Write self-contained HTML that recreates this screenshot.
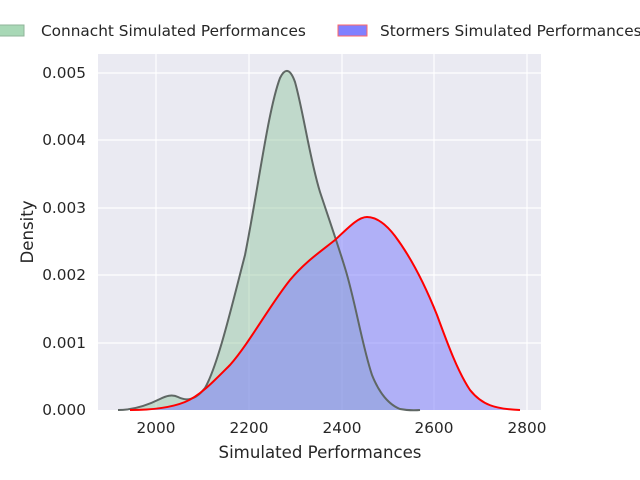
<!DOCTYPE html>
<html><head><style>body{margin:0;background:#fff}svg{display:block}text{font-family:"DejaVu Sans","Liberation Sans",sans-serif;fill:#262626}</style></head>
<body>
<svg width="640" height="480" viewBox="0 0 640 480">
<rect x="98" y="54" width="443" height="356" fill="#eaeaf2"/>
<g stroke="#fff" stroke-width="1.2">
<line x1="156" y1="54" x2="156" y2="410"/><line x1="249" y1="54" x2="249" y2="410"/><line x1="342" y1="54" x2="342" y2="410"/><line x1="434" y1="54" x2="434" y2="410"/><line x1="527" y1="54" x2="527" y2="410"/>
<line x1="98" y1="343" x2="541" y2="343"/><line x1="98" y1="275" x2="541" y2="275"/><line x1="98" y1="208" x2="541" y2="208"/><line x1="98" y1="140" x2="541" y2="140"/><line x1="98" y1="73" x2="541" y2="73"/>
</g>
<path d="M118,410 C135,410 150,404 160,399 C166,396 172,394 178,397 C186,401 195,401 205,388 C218,365 232,305 245,255 C258,190 268,110 280,78 C285,68 290,68 295,82 C303,110 310,160 320,192 C330,222 338,245 345,268 C355,300 362,345 372,375 C380,395 390,405 400,409 C410,411 420,410 420,410 Z" fill="#8fc69b" fill-opacity="0.45"/>
<path d="M130,410 C150,410 170,408 185,402 C200,396 215,380 230,365 C250,342 270,305 290,280 C305,262 320,252 335,240 C348,228 358,217 367,217 C376,217 385,223 395,236 C410,256 425,285 437,315 C448,345 458,372 470,390 C482,405 495,409 520,410 Z" fill="#7f7ffb" fill-opacity="0.55"/>
<path d="M118,410 C135,410 150,404 160,399 C166,396 172,394 178,397 C186,401 195,401 205,388 C218,365 232,305 245,255 C258,190 268,110 280,78 C285,68 290,68 295,82 C303,110 310,160 320,192 C330,222 338,245 345,268 C355,300 362,345 372,375 C380,395 390,405 400,409 C410,411 420,410 420,410" fill="none" stroke="#5f6764" stroke-width="2"/>
<path d="M130,410 C150,410 170,408 185,402 C200,396 215,380 230,365 C250,342 270,305 290,280 C305,262 320,252 335,240 C348,228 358,217 367,217 C376,217 385,223 395,236 C410,256 425,285 437,315 C448,345 458,372 470,390 C482,405 495,409 520,410" fill="none" stroke="#f00" stroke-width="2"/>
<g font-size="15.3" text-anchor="middle">
<text x="156" y="433">2000</text><text x="249" y="433">2200</text><text x="342" y="433">2400</text><text x="434" y="433">2600</text><text x="527" y="433">2800</text>
</g>
<g font-size="15.3" text-anchor="end">
<text x="86" y="415">0.000</text><text x="86" y="348">0.001</text><text x="86" y="280">0.002</text><text x="86" y="213">0.003</text><text x="86" y="145">0.004</text><text x="86" y="78">0.005</text>
</g>
<text x="320" y="458" font-size="16.6" text-anchor="middle">Simulated Performances</text>
<text transform="translate(33,232) rotate(-90)" font-size="16.6" text-anchor="middle">Density</text>
<rect x="-4" y="25" width="28" height="11" fill="#a8d8b6" stroke="#8fb59a"/>
<text x="41" y="36" font-size="15.3">Connacht Simulated Performances</text>
<rect x="338" y="25" width="29" height="11" fill="#8080ff" stroke="#f66"/>
<text x="380" y="36" font-size="15.3">Stormers Simulated Performances</text>
</svg>
</body></html>
